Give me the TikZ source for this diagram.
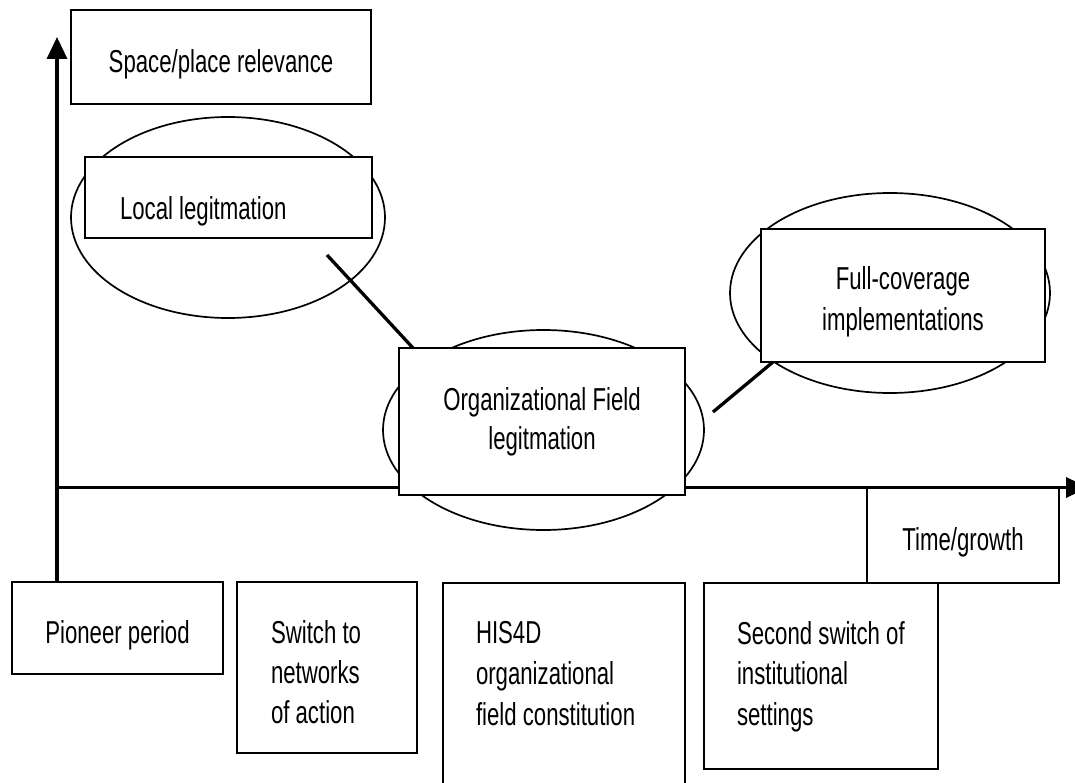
\documentclass[tikz,border=0pt]{standalone}
\usepackage{fontspec}
\newfontfamily\cf[FakeStretch=0.7]{Liberation Sans}
\usetikzlibrary{arrows.meta,calc,shapes.geometric}
\newcommand\tbl[5]{\parbox[c][#2pt][t]{#1pt}{\leftskip=#3pt\relax\rule{0pt}{#4pt}#5}}
\newcommand\tbc[4]{\parbox[c][#2pt][t]{#1pt}{\centering\rule{0pt}{#3pt}#4}}
\begin{document}
\begin{tikzpicture}[x=1pt,y=-1pt,
  every node/.style={font=\cf\fontsize{31.7}{41}\selectfont},
  box/.style={draw,line width=2.4pt,fill=white,inner sep=0pt,outer sep=0pt,anchor=north west},
  oval/.style={draw,ellipse,line width=1.7pt,inner sep=0pt,outer sep=0pt},
  axis/.style={line width=3.5pt,-{Triangle[length=22pt,width=20pt]}},
  conn/.style={line width=3.3pt}]
\fill[white] (0,0) rectangle (1075,783);
\useasboundingbox (0,0) rectangle (1075,783);
% ellipses
\node[oval,minimum width=314pt,minimum height=201pt] (e1) at (228,217.5) {};
\node[oval,minimum width=321pt,minimum height=200pt] (e2) at (543.5,430) {};
\node[oval,minimum width=320pt,minimum height=200pt] (e3) at (890,293) {};
% time box (its top lies on the axis)
\node[box] (time) at (867,487.5) {\tbc{192}{95.5}{62.5}{Time/growth}};
% axes
\coordinate (ybot) at (57,582);
\coordinate (ytip) at (57,37);
\coordinate (orig) at (57,487.5);
\coordinate (xtip) at (1088,487.5);
\draw[axis] (ybot) -- (ytip);
\draw[axis] (orig) -- (xtip);
% boxes
\node[box] (space) at (71,10) {\tbc{300}{94}{63}{Space/place relevance}};
\node[box] (local) at (85,157) {\tbl{287}{81}{35}{63}{Local legitmation}};
\node[box] (org) at (399,348) {\tbc{286}{147}{62.5}{\baselineskip=39pt Organizational Field\\legitmation}};
\node[box] (full) at (761,229) {\tbc{284}{133}{60}{Full-coverage\\implementations}};
\node[box] (pioneer) at (12,582) {\tbc{211}{92}{61}{Pioneer period}};
\node[box] (switch) at (237,582) {\tbl{180}{171}{34}{61}{\baselineskip=40pt Switch to\\networks\\of action}};
\node[box] (his) at (443,583) {\tbl{242}{220}{33}{60}{HIS4D\\organizational\\field constitution}};
\node[box] (second) at (704,583) {\tbl{234}{186}{33}{61}{\baselineskip=40.5pt Second switch of\\institutional\\settings}};
% connectors
\coordinate (l1s) at (327,255);
\coordinate (l2s) at (713,412);
\draw[conn] (l1s) -- ($(org.north west)+(14,0)$);
\draw[conn] (l2s) -- ($(full.south west)+(12,0)$);
\end{tikzpicture}
\end{document}
